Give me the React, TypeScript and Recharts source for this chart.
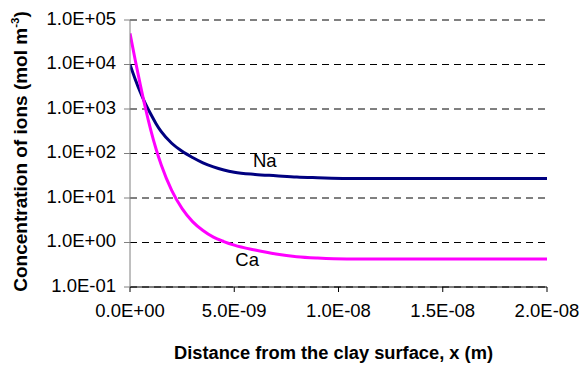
import React from 'react';
import { LineChart, Line, XAxis, YAxis, CartesianGrid, ReferenceDot } from 'recharts';

// Distance from the clay surface (m)
const distance = [0, 0.25e-9, 0.5e-9, 0.75e-9, 1e-9, 1.25e-9, 1.5e-9, 2e-9, 2.5e-9, 3e-9, 3.5e-9, 4e-9, 4.5e-9, 5e-9, 6e-9, 7e-9, 8e-9, 9e-9, 10.4e-9, 20e-9];
// Concentration of Na (mol m^-3)
const naValues = [10000, 4677, 2344, 1288, 759, 468, 309, 170, 112, 81.3, 61.7, 50.1, 42.7, 38.0, 33.9, 31.6, 29.5, 28.5, 27.5, 27.4];
// Concentration of Ca (mol m^-3)
const caValues = [50000, 12589, 3388, 1000, 331, 126, 55.0, 14.8, 5.75, 2.95, 1.86, 1.32, 1.05, 0.871, 0.676, 0.55, 0.479, 0.447, 0.427, 0.427];

const xTicks = [0, 5e-9, 1e-8, 1.5e-8, 2e-8];
const yTicks = [0.1, 1, 10, 100, 1000, 10000, 100000];

// series annotation anchors (data coordinates)
const naLabel = { x: 5.9e-9, y: 50, text: 'Na' };
const caLabel = { x: 5.05e-9, y: 0.297, text: 'Ca' };

const data = distance.map((x, i) => ({ x, na: naValues[i], ca: caValues[i] }));

const FONT = '"Liberation Sans", Arial, sans-serif';

function sci(v: number): string {
  if (v === 0) return '0.0E+00';
  let e = Math.floor(Math.log10(Math.abs(v)) + 1e-9);
  let m = v / Math.pow(10, e);
  if (Math.round(m * 10) / 10 >= 10) { m /= 10; e += 1; }
  const sign = e < 0 ? '-' : '+';
  const ae = Math.abs(e);
  return `${m.toFixed(1)}E${sign}${ae < 10 ? '0' : ''}${ae}`;
}

const YTick = (props: any) => {
  const { x, y, payload } = props;
  return (
    <text x={x} y={y + 4.5} textAnchor="end" fontFamily={FONT} fontSize={18.5} fill="#000">
      {sci(payload.value)}
    </text>
  );
};

const XTick = (props: any) => {
  const { x, y, payload } = props;
  return (
    <text x={x} y={y + 23} textAnchor="middle" fontFamily={FONT} fontSize={18.5} fill="#000">
      {sci(payload.value)}
    </text>
  );
};

const XTitle = (props: any) => {
  const vb = props.viewBox || {};
  const cx = vb.x + vb.width / 2 - 5;
  return (
    <text x={cx} y={359} textAnchor="middle" fontFamily={FONT} fontSize={18.3} fontWeight="bold" fill="#000">
      Distance from the clay surface, x (m)
    </text>
  );
};

const YTitle = (props: any) => {
  const vb = props.viewBox || {};
  const cy = vb.y + vb.height / 2 - 2;
  const tx = 27;
  return (
    <text x={tx} y={cy} transform={`rotate(-90, ${tx}, ${cy})`} textAnchor="middle" fontFamily={FONT} fontSize={19} fontWeight="bold" fill="#000">
      Concentration of ions (mol m<tspan fontSize={11.5} dy={-8}>-3</tspan><tspan dy={8}>)</tspan>
    </text>
  );
};

const makeLabelShape = (text: string) => (p: any) => (
  <text x={p.cx} y={p.cy} fontFamily={FONT} fontSize={18.5} fill="#000">{text}</text>
);

export default function App() {
  return (
    <div style={{ position: 'absolute', left: 0, top: 0, width: 581, height: 367, background: '#fff' }}>
      <LineChart width={581} height={367} data={data} margin={{ top: 20, right: 34, bottom: 0, left: 0 }}>
        <CartesianGrid vertical={false} stroke="#000" strokeDasharray="7 5" />
        <XAxis
          dataKey="x"
          type="number"
          domain={[0, 2e-8]}
          ticks={xTicks}
          height={80}
          stroke="#000"
          tickSize={5}
          tickMargin={2}
          tick={<XTick />}
          label={<XTitle />}
          allowDataOverflow
        />
        <YAxis
          type="number"
          scale="log"
          domain={[0.1, 100000]}
          ticks={yTicks}
          width={130}
          stroke="#808080"
          tickSize={6}
          tickMargin={8}
          tick={<YTick />}
          label={<YTitle />}
          allowDataOverflow
        />
        <Line type="monotone" dataKey="na" stroke="#000080" strokeWidth={3} dot={false} isAnimationActive={false} />
        <Line type="monotone" dataKey="ca" stroke="#FF00FF" strokeWidth={3} dot={false} isAnimationActive={false} />
        <ReferenceDot x={naLabel.x} y={naLabel.y} r={0} shape={makeLabelShape(naLabel.text)} ifOverflow="visible" />
        <ReferenceDot x={caLabel.x} y={caLabel.y} r={0} shape={makeLabelShape(caLabel.text)} ifOverflow="visible" />
      </LineChart>
    </div>
  );
}
